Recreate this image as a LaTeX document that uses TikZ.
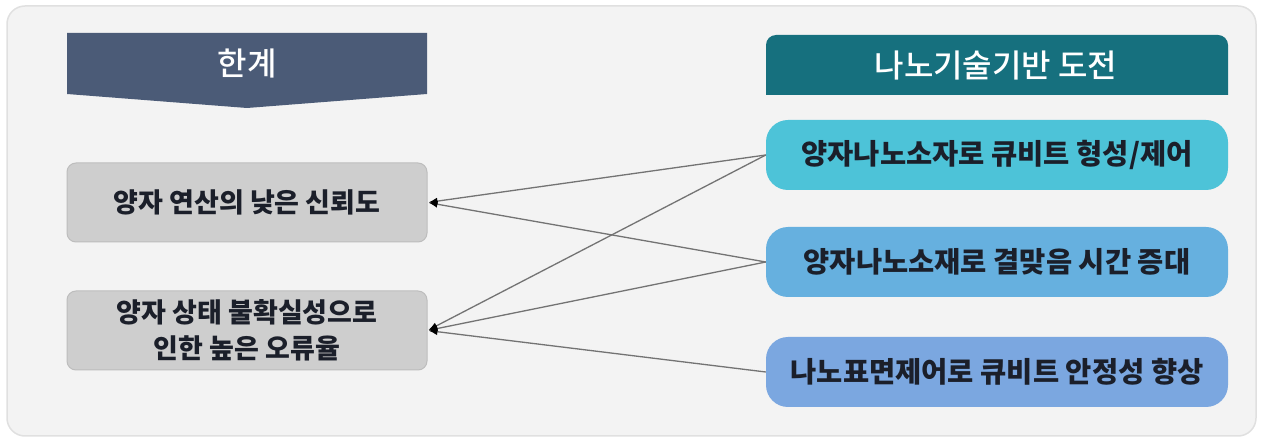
\documentclass[tikz,border=0pt]{standalone}
\usepackage{fontspec}
\setmainfont{Noto Sans CJK KR}
\newfontfamily\krmedium{Noto Sans CJK KR Medium}
\usetikzlibrary{arrows.meta}
\definecolor{outerfill}{HTML}{F3F3F3}
\definecolor{outerline}{HTML}{E0E0E0}
\definecolor{bannerL}{HTML}{4B5B77}
\definecolor{bannerR}{HTML}{16707E}
\definecolor{grayfill}{HTML}{CECECE}
\definecolor{grayline}{HTML}{BDBDBD}
\definecolor{rone}{HTML}{4DC3D8}
\definecolor{rtwo}{HTML}{66B0DF}
\definecolor{rthree}{HTML}{7BA7E0}
\definecolor{ink}{HTML}{1B1F2A}
\definecolor{linkgray}{HTML}{737373}
\tikzset{
  leftbox/.style={draw=grayline, line width=1pt, fill=grayfill, rounded corners=9pt,
    minimum width=360pt, minimum height=79pt, align=center, text=ink,
    font=\fontsize{27}{36}\selectfont\bfseries, inner sep=0pt},
  rightbox/.style={rounded corners=22pt, minimum width=462pt, minimum height=70pt,
    text=ink, font=\fontsize{28.5}{32}\selectfont\bfseries, inner sep=0pt},
  headtext/.style={text=white, font=\krmedium\fontsize{32}{36}\selectfont, inner sep=0pt},
  link/.style={draw=linkgray, line width=1.3pt,
    -{Latex[length=9pt,width=7pt,fill=black,color=black]}, shorten >=1pt}
}
\begin{document}
\begin{tikzpicture}[x=1pt,y=-1pt]
\useasboundingbox (0,0) rectangle (1262,438);
% panel
\draw[fill=outerfill, draw=outerline, line width=1.5pt, rounded corners=18pt]
  (7,6) rectangle (1256,436);
% left banner with pointed bottom
\fill[bannerL] (67,33) -- (427,33) -- (427,94) -- (247,108) -- (67,94) -- cycle;
\node[headtext] (limits) at (247,64) {한계};
% right header, rounded along the top
\fill[bannerR] (766,95) {[rounded corners=10pt] -- (766,35) -- (1228,35)} -- (1228,95) -- cycle;
\node[headtext] (nano) at (996,66) {나노기술기반 도전};
% problem boxes
\node[leftbox] (p1) at (247,202.5) {양자 연산의 낮은 신뢰도};
\node[leftbox] (p2) at (247,330.5) {양자 상태 불확실성으로\\인한 높은 오류율};
% approach boxes
\node[rightbox, fill=rone] (s1) at (997,155) {양자나노소자로  큐비트 형성/제어};
\node[rightbox, fill=rtwo] (s2) at (997,262) {양자나노소재로  결맞음 시간 증대};
\node[rightbox, fill=rthree] (s3) at (997,372) {나노표면제어로 큐비트 안정성 향상};
% links
\draw[link] (s1.west) -- (p1.east);
\draw[link] (s2.west) -- (p1.east);
\draw[link] (s1.west) -- (p2.east);
\draw[link] (s2.west) -- (p2.east);
\draw[link] (s3.west) -- (p2.east);
\end{tikzpicture}
\end{document}
